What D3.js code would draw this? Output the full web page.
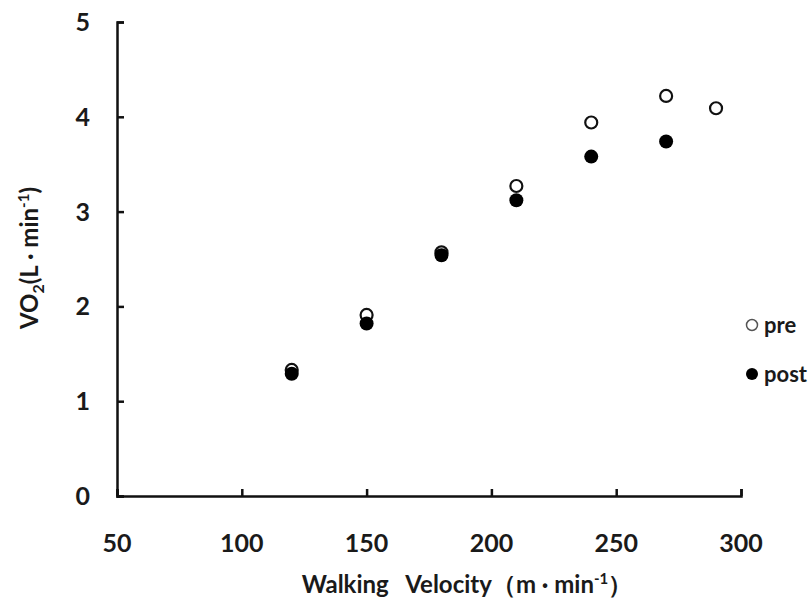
<!DOCTYPE html>
<html>
<head>
<meta charset="utf-8">
<script src="https://cdn.jsdelivr.net/npm/d3@7"></script>
<style>
  body { margin: 0; background: #fff; }
  svg text { font-family: Lato, "Open Sans", sans-serif; font-weight: bold; fill: #1a1a1a; }
</style>
</head>
<body>
<svg></svg>
<script>
// walking velocity (m/min)
const velocity = [120, 150, 180, 210, 240, 270, 290];
const preVO2 = [1.33, 1.91, 2.57, 3.27, 3.94, 4.22, 4.09];
const postVO2 = [1.29, 1.82, 2.54, 3.12, 3.58, 3.74];
const xTicks = [50, 100, 150, 200, 250, 300];
const yTicks = [0, 1, 2, 3, 4, 5];

document.addEventListener("DOMContentLoaded", () => {
  const width = 812, height = 604;
  const svg = d3.select("svg").attr("width", width).attr("height", height);

  const x = d3.scaleLinear().domain([50, 300]).range([117, 741]);
  const y = d3.scaleLinear().domain([0, 5]).range([496, 22]);

  // axes, ticks pointing inward
  const xAxis = svg.append("g").attr("transform", `translate(0,${y(0)})`)
    .call(d3.axisTop(x).tickValues(xTicks).tickSize(7).tickFormat(""));
  const yAxis = svg.append("g").attr("transform", `translate(${x(50)},0)`)
    .call(d3.axisRight(y).tickValues(yTicks).tickSize(7).tickFormat(""));
  [xAxis, yAxis].forEach(a => {
    a.selectAll("path, line").attr("stroke", "#111").attr("stroke-width", 2.5);
  });

  svg.append("g").selectAll("text").data(xTicks).enter().append("text")
    .attr("x", d => x(d)).attr("y", 552)
    .attr("text-anchor", "middle").style("font-size", "25px")
    .text(d => d);
  svg.append("g").selectAll("text").data(yTicks).enter().append("text")
    .attr("x", 90).attr("y", d => y(d) + 9)
    .attr("text-anchor", "end").style("font-size", "25px")
    .text(d => d);

  // axis titles
  const xt = svg.append("text").attr("x", 467).attr("y", 593)
    .attr("text-anchor", "middle").style("font-size", "24px");
  xt.append("tspan").text("Walking\u00a0\u00a0 Velocity\uff08m\u00a0\u00b7\u00a0min");
  xt.append("tspan").attr("dy", -9).style("font-size", "15px").text("-1");
  xt.append("tspan").attr("dy", 9).text("\uff09");

  const yt = svg.append("text")
    .attr("transform", "translate(38,258) rotate(-90)")
    .attr("text-anchor", "middle").style("font-size", "24px");
  yt.append("tspan").text("VO");
  yt.append("tspan").attr("dy", 6).style("font-size", "16px").text("2");
  yt.append("tspan").attr("dy", -6).text("(L\u00a0\u00b7\u00a0min");
  yt.append("tspan").attr("dy", -9).style("font-size", "15px").text("-1");
  yt.append("tspan").attr("dy", 9).text(")");

  // points
  svg.append("g").selectAll("circle").data(velocity.map((v, i) => [v, preVO2[i]]))
    .enter().append("circle")
    .attr("cx", d => x(d[0])).attr("cy", d => y(d[1])).attr("r", 6)
    .attr("fill", "#fff").attr("stroke", "#111").attr("stroke-width", 2.2);
  svg.append("g").selectAll("circle").data(postVO2.map((v, i) => [velocity[i], v]))
    .enter().append("circle")
    .attr("cx", d => x(d[0])).attr("cy", d => y(d[1])).attr("r", 7)
    .attr("fill", "#000");

  // legend
  const legend = svg.append("g");
  legend.append("circle").attr("cx", 752).attr("cy", 325).attr("r", 5.5)
    .attr("fill", "#fff").attr("stroke", "#555").attr("stroke-width", 1.5);
  legend.append("text").attr("x", 764).attr("y", 333).style("font-size", "22px").text("pre");
  legend.append("circle").attr("cx", 752).attr("cy", 374).attr("r", 6)
    .attr("fill", "#000");
  legend.append("text").attr("x", 764).attr("y", 382).style("font-size", "22px").text("post");
});
</script>
</body>
</html>
